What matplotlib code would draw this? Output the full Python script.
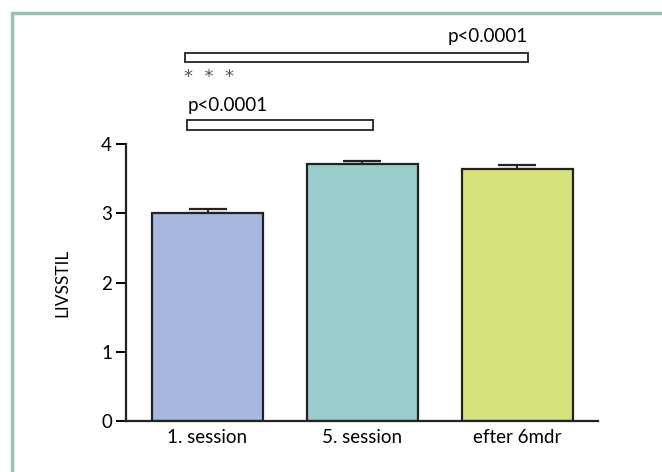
import numpy as np
import matplotlib
matplotlib.use("Agg")
import matplotlib.pyplot as plt
from matplotlib.patches import Rectangle

# data
categories = ["1. session", "5. session", "efter 6mdr"]
means = [3.00, 3.71, 3.64]
errors = [0.06, 0.04, 0.05]
bar_colors = ["#a6b8e0", "#9acccb", "#d7e27c"]
p_text = "p<0.0001"

plt.rcParams['font.family'] = ['Lato', 'DejaVu Sans']

fig = plt.figure(figsize=(6.62, 4.72), dpi=100)
ax = fig.add_axes([126 / 662, 1 - 421 / 472, (598 - 126) / 662, (421 - 144) / 472])

x = np.arange(len(categories))
ax.bar(x, means, width=0.716, color=bar_colors, edgecolor="#222222", linewidth=1.6, zorder=2)
ax.errorbar(x, means, yerr=[np.zeros(3), errors], fmt="none", ecolor="#222222",
            elinewidth=1.4, capsize=14, capthick=1.6, zorder=1)

ax.set_xlim(-0.526, 2.52)
ax.set_ylim(0, 4)
ax.set_yticks([0, 1, 2, 3, 4])
ax.set_xticks(x)
ax.set_xticklabels(categories, fontsize=13.5)
ax.tick_params(axis="y", labelsize=13.5, length=7, width=1.4, direction="out", pad=3)
ax.tick_params(axis="x", length=0, pad=6)
for s in ["top", "right"]:
    ax.spines[s].set_visible(False)
for s in ["left", "bottom"]:
    ax.spines[s].set_linewidth(1.6)
    ax.spines[s].set_color("#222222")
ax.set_ylabel("LIVSSTIL", fontsize=12.5, labelpad=22)

# significance boxes
ax.add_patch(Rectangle((-0.145, 5.18), 2.215, 0.13, fill=False, edgecolor="#333333",
                       linewidth=1.4, clip_on=False))
ax.add_patch(Rectangle((-0.13, 4.20), 1.20, 0.14, fill=False, edgecolor="#333333",
                       linewidth=1.4, clip_on=False))
ax.text(2.07, 5.43, p_text, ha="right", va="bottom", fontsize=13.5, clip_on=False)
ax.text(-0.13, 4.43, p_text, ha="left", va="bottom", fontsize=13.5, clip_on=False)
ax.text(-0.15, 4.97, "*  *  *", ha="left", va="center", fontsize=13, color="#555555",
        family="DejaVu Sans", clip_on=False)

# outer frame
fig.patches.append(Rectangle((12 / 662, -0.2), 1.2, 1 - 13 / 472 + 0.2, transform=fig.transFigure,
                             fill=False, edgecolor="#9dbfb5", linewidth=2.5))

fig.savefig("out.png", dpi=100)
